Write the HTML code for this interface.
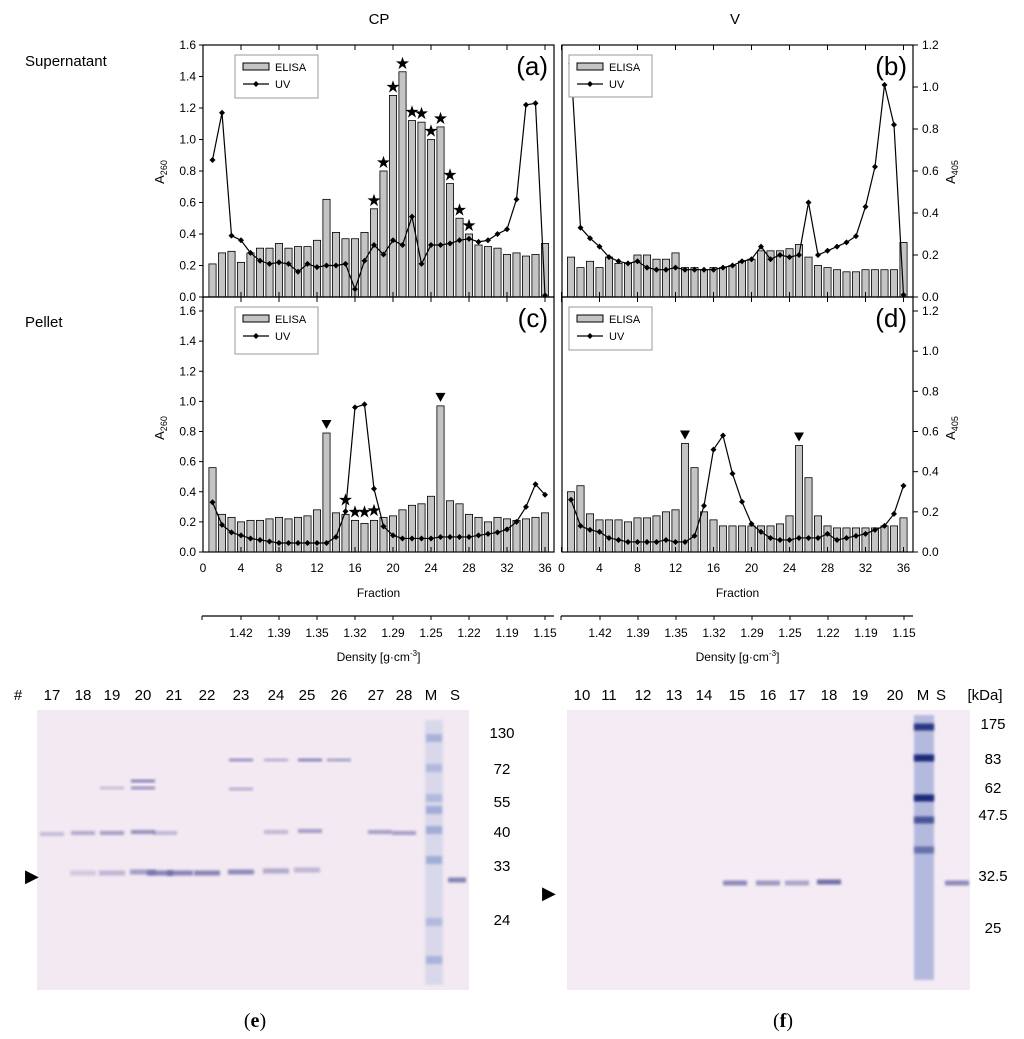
<!DOCTYPE html>
<html><head><meta charset="utf-8"><style>
body{margin:0;background:#fff}
svg{display:block;font-family:"Liberation Sans",sans-serif}
</style></head><body>
<svg id="fig" width="1024" height="1039" viewBox="0 0 1024 1039" xmlns="http://www.w3.org/2000/svg">
<defs><filter id="bl" x="-50%" y="-50%" width="200%" height="200%"><feGaussianBlur stdDeviation="1.4"/></filter></defs>
<g id="charts"></g>
<g id="gels"></g>
</svg>
<script>
const fractions = Array.from({length:36},(_,i)=>i+1);
const elisaA = [0.21,0.28,0.29,0.22,0.28,0.31,0.31,0.34,0.31,0.32,0.32,0.36,0.62,0.41,0.37,0.37,0.41,0.56,0.80,1.28,1.43,1.12,1.11,1.00,1.08,0.72,0.50,0.40,0.33,0.32,0.31,0.27,0.28,0.26,0.27,0.34];
const uvA = [0.87,1.17,0.39,0.36,0.28,0.23,0.21,0.22,0.21,0.16,0.21,0.19,0.20,0.20,0.21,0.05,0.23,0.33,0.27,0.36,0.33,0.51,0.21,0.33,0.33,0.34,0.36,0.37,0.35,0.36,0.40,0.43,0.62,1.22,1.23,0.01];
const starsA = [18,19,20,21,22,23,24,25,26,27,28];
const elisaB = [0.19,0.14,0.17,0.14,0.19,0.16,0.16,0.20,0.20,0.18,0.18,0.21,0.14,0.14,0.13,0.14,0.14,0.15,0.17,0.18,0.22,0.22,0.22,0.23,0.25,0.19,0.15,0.14,0.13,0.12,0.12,0.13,0.13,0.13,0.13,0.26];
const uvB = [1.11,0.33,0.28,0.24,0.19,0.17,0.16,0.17,0.14,0.13,0.13,0.14,0.13,0.13,0.13,0.13,0.14,0.15,0.17,0.18,0.24,0.18,0.20,0.19,0.20,0.45,0.20,0.22,0.24,0.26,0.29,0.43,0.62,1.01,0.82,0.01];
const elisaC = [0.56,0.25,0.23,0.20,0.21,0.21,0.22,0.23,0.22,0.23,0.24,0.28,0.79,0.26,0.25,0.21,0.19,0.21,0.23,0.24,0.28,0.31,0.32,0.37,0.97,0.34,0.32,0.25,0.23,0.20,0.23,0.22,0.21,0.22,0.23,0.26];
const uvC = [0.33,0.18,0.13,0.11,0.09,0.08,0.07,0.06,0.06,0.06,0.06,0.06,0.06,0.10,0.27,0.96,0.98,0.42,0.17,0.11,0.09,0.09,0.09,0.09,0.10,0.10,0.10,0.10,0.11,0.12,0.13,0.15,0.20,0.30,0.45,0.38];
const starsC = [15,16,17,18];
const starValsC = [0.35,0.27,0.27,0.28];
const trianglesC = [13,25];
const elisaD = [0.30,0.33,0.19,0.16,0.16,0.16,0.15,0.17,0.17,0.18,0.20,0.21,0.54,0.42,0.20,0.16,0.13,0.13,0.13,0.13,0.13,0.13,0.14,0.18,0.53,0.37,0.18,0.13,0.12,0.12,0.12,0.12,0.12,0.13,0.13,0.17];
const uvD = [0.26,0.13,0.11,0.10,0.07,0.06,0.05,0.05,0.05,0.05,0.06,0.05,0.05,0.08,0.23,0.51,0.58,0.39,0.25,0.14,0.10,0.07,0.06,0.06,0.07,0.07,0.07,0.09,0.06,0.07,0.08,0.09,0.11,0.13,0.19,0.33];
const trianglesD = [13,25];
const leftTicks = ["0.0","0.2","0.4","0.6","0.8","1.0","1.2","1.4","1.6"];
const rightTicks = ["0.0","0.2","0.4","0.6","0.8","1.0","1.2"];
const fracTicks = [0,4,8,12,16,20,24,28,32,36];
const densityTicks = ["1.42","1.39","1.35","1.32","1.29","1.25","1.22","1.19","1.15"];

const NS="http://www.w3.org/2000/svg";
function mk(tag,attrs,parent,text){const e=document.createElementNS(NS,tag);for(const k in attrs)e.setAttribute(k,attrs[k]);if(text!==undefined)e.textContent=text;parent.appendChild(e);return e;}
const root=document.getElementById('charts');

function panel(o){
  const g=mk('g',{},root);
  
  
  const x=f=>o.x0+9.5*f;
  const y=v=>o.yb-(o.yb-o.yt)*v/o.ymax;
  o.elisa.forEach((v,i)=>{
    const r=mk('rect',{x:x(fractions[i])-3.6,y:y(v),width:7.2,height:Math.max(0,o.yb-y(v)),fill:'#c4c4c4',stroke:'#000','stroke-width':0.8},g);
    
    
  });
  const pts=o.uv.map((v,i)=>x(fractions[i])+','+Math.max(o.clipTop,y(v))).join(' ');
  const pl=mk('polyline',{points:pts,fill:'none',stroke:'#000','stroke-width':1.2},g);
  
  
  o.uv.forEach((v,i)=>{
    const cx=x(fractions[i]),cy=Math.max(o.clipTop,y(v));
    const d=mk('path',{d:`M${cx} ${cy-3}L${cx+3} ${cy}L${cx} ${cy+3}L${cx-3} ${cy}Z`,fill:'#000'},g);
    
    
  });
  const fr=mk('rect',{x:o.fl,y:o.yt,width:o.fr-o.fl,height:o.yb-o.yt,fill:'none',stroke:'#000','stroke-width':1.2},g);
  
  
  fracTicks.forEach(f=>{mk('line',{x1:x(f),x2:x(f),y1:o.yb,y2:o.yb-5,stroke:'#000'},g);mk('line',{x1:x(f),x2:x(f),y1:o.yt,y2:o.yt+5,stroke:'#000'},g);});
  if(o.left){leftTicks.forEach((t,i)=>{const yy=y(i*0.2);mk('line',{x1:o.fl-4,x2:o.fl,y1:yy,y2:yy,stroke:'#000'},g);
    const tx=mk('text',{x:o.fl-7,y:yy+4,'font-size':12,'text-anchor':'end'},g,t);});}
  else{rightTicks.forEach((t,i)=>{const yy=y(i*0.2);mk('line',{x1:o.fr,x2:o.fr+5,y1:yy,y2:yy,stroke:'#000'},g);
    const tx=mk('text',{x:o.fr+9,y:yy+4,'font-size':12},g,t);});}
  const lg=mk('g',{},g);
  
  
  mk('rect',{x:o.lx,y:o.ly,width:83,height:o.lh,fill:'#fff',stroke:'#999'},lg);
  mk('rect',{x:o.lx+8,y:o.ly+8,width:26,height:7,fill:'#c4c4c4',stroke:'#000'},lg);
  mk('text',{x:o.lx+40,y:o.ly+16,'font-size':11},lg,'ELISA');
  mk('line',{x1:o.lx+8,x2:o.lx+34,y1:o.ly+29,y2:o.ly+29,stroke:'#000','stroke-width':1.2},lg);
  mk('path',{d:`M${o.lx+21} ${o.ly+26}l3 3l-3 3l-3 -3z`},lg);
  mk('text',{x:o.lx+40,y:o.ly+33,'font-size':11},lg,'UV');
  const pt=mk('text',{x:o.fr-6,y:o.yt+30,'font-size':26,'text-anchor':'end'},g,'('+o.id+')');
  
  
  (o.stars||[]).forEach((f,i)=>{
    const v=o.starVals?o.starVals[i]:o.elisa[f-1];
    const s=mk('text',{x:x(f),y:o.starVals?y(v)+6:y(v)-3,'font-size':17,'text-anchor':'middle'},g,'★');
    
    
  });
  (o.tri||[]).forEach(f=>{
    const v=o.elisa[f-1],cx=x(f),ty=y(v)-13;
    const t=mk('path',{d:`M${cx-5} ${ty}L${cx+5} ${ty}L${cx} ${ty+9}Z`},g);
    
    
  });
  if(o.bottom){
    fracTicks.forEach(f=>{const tx=mk('text',{x:x(f),y:o.yb+20,'font-size':12,'text-anchor':'middle'},g,String(f));});
    const ft=mk('text',{x:(o.fl+o.fr)/2,y:o.yb+45,'font-size':12,'text-anchor':'middle'},g,'Fraction');
    
    const dy=616;
    mk('line',{x1:o.fl-1,x2:o.fr,y1:dy,y2:dy,stroke:'#000','stroke-width':1.2},g);
    mk('line',{x1:o.fl-1,x2:o.fl-1,y1:dy,y2:dy+4,stroke:'#000'},g);
    densityTicks.forEach((t,i)=>{const xx=o.fl+38+38*i;mk('line',{x1:xx,x2:xx,y1:dy,y2:dy+4,stroke:'#000'},g);
      const tx=mk('text',{x:xx,y:dy+21,'font-size':12,'text-anchor':'middle'},g,t);});
    const dt=mk('text',{x:(o.fl+o.fr)/2,y:dy+45,'font-size':12,'text-anchor':'middle'},g);
    
    dt.innerHTML='Density [g·cm<tspan dy="-5" font-size="8">-3</tspan><tspan dy="5">]</tspan>';
  }
}
panel({id:'a',x0:203,fl:203,fr:554,yt:45,yb:297,ymax:1.6,clipTop:45,elisa:elisaA,uv:uvA,stars:starsA,left:true,lx:235,ly:55,lh:43});
panel({id:'b',x0:561.5,fl:562,fr:913,yt:45,yb:297,ymax:1.2,clipTop:45,elisa:elisaB,uv:uvB,left:false,lx:569,ly:55,lh:42});
panel({id:'c',x0:203,fl:203,fr:554,yt:297,yb:552,ymax:1.6*(552-297)/(552-311),clipTop:297,elisa:elisaC,uv:uvC,stars:starsC,starVals:starValsC,tri:trianglesC,left:true,lx:235,ly:307,lh:47,bottom:true});
panel({id:'d',x0:561.5,fl:562,fr:913,yt:297,yb:552,ymax:1.2*(552-297)/(552-311),clipTop:297,elisa:elisaD,uv:uvD,tri:trianglesD,left:false,lx:569,ly:307,lh:43,bottom:true});
</script>
<script>
const T=(x,y,s,t,name,extra)=>{const e=mk('text',Object.assign({x:x,y:y,'font-size':s},extra||{}),document.getElementById('fig'),t);return e;};
T(379,24,15,'CP','column-title-cp',{'text-anchor':'middle'});
T(735,24,15,'V','column-title-v',{'text-anchor':'middle'});
T(25,66,15,'Supernatant','row-title-supernatant');
T(25,327,15,'Pellet','row-title-pellet');
function yl(x,y,base,name){const e=T(x,y,13,'',name,{transform:`rotate(-90 ${x} ${y})`,'text-anchor':'middle'});e.innerHTML=base.replace(/(\d+)/,'<tspan font-size="9" dy="3">$1</tspan>');}
yl(164,172,'A260','y-axis-title-a');yl(164,428,'A260','y-axis-title-c');
yl(955,172,'A405','y-axis-title-b');yl(955,428,'A405','y-axis-title-d');
const gg=document.getElementById('gels');
const ge=mk('rect',{x:37,y:710,width:432,height:280,fill:'#f3e9f2'},gg);
const gf=mk('rect',{x:567,y:710,width:403,height:280,fill:'#f5ebf4'},gg);
const band=(x,y,w,h,c,op)=>mk('rect',{x:x-w/2,y:y-h/2,width:w,height:h,fill:c,opacity:op,filter:'url(#bl)'},gg);
[[83,873,.25],[112,873,.4],[143,872,.6],[160,873,.8],[180,873,.8],[207,873,.8],[241,872,.75],[276,871,.5],[307,870,.4]].forEach(b=>band(b[0],b[1],26,5,'#6a6aa8',b[2]));
[[52,834,.35],[83,833,.5],[112,833,.6],[143,832,.7],[165,833,.4],[276,832,.4],[310,831,.6],[380,832,.6],[404,833,.6]].forEach(b=>band(b[0],b[1],24,4,'#6a6aa8',b[2]));
[[143,781,.7],[143,788,.6],[112,788,.3],[241,789,.4],[241,760,.6],[276,760,.4],[310,760,.7],[339,760,.5]].forEach(b=>band(b[0],b[1],24,3,'#5a5aa0',b[2]));
band(457,880,18,5,'#6a6aa8',.8);
mk('rect',{x:425,y:720,width:18,height:265,fill:'#c9cde6',opacity:.6,filter:'url(#bl)'},gg);
[[738,.6],[768,.5],[798,.5],[810,.7],[830,.7],[860,.7],[922,.5],[960,.6]].forEach(b=>band(434,b[0],16,8,'#8a9cd0',b[1]));
[[735,883,.7],[768,883,.6],[797,883,.5],[829,882,.9],[957,883,.7]].forEach(b=>band(b[0],b[1],24,5,'#6060a0',b[2]));
mk('rect',{x:914,y:715,width:20,height:265,fill:'#8a9ad0',opacity:.6,filter:'url(#bl)'},gg);
[[727,.9],[758,1],[798,1],[820,.7],[850,.5]].forEach(b=>band(924,b[0],20,7,'#1a2a7a',b[1]));
T(25,882,18,'▶','arrow-e');T(542,899,18,'▶','arrow-f');
const laneE=[['#',18],['17',52],['18',83],['19',112],['20',143],['21',174],['22',207],['23',241],['24',276],['25',307],['26',339],['27',376],['28',404],['M',431],['S',455]];
laneE.forEach(l=>T(l[1],700,15,l[0],'lane-label-e',{'text-anchor':'middle'}));
[['130',733],['72',769],['55',802],['40',832],['33',866],['24',920]].forEach(k=>T(502,k[1]+5,15,k[0],'kda-label-e',{'text-anchor':'middle'}));
const laneF=[['10',582],['11',609],['12',643],['13',674],['14',704],['15',737],['16',768],['17',797],['18',829],['19',860],['20',895],['M',923],['S',941],['[kDa]',985]];
laneF.forEach(l=>T(l[1],700,15,l[0],'lane-label-f',{'text-anchor':'middle'}));
[['175',724],['83',759],['62',788],['47.5',815],['32.5',876],['25',928]].forEach(k=>T(993,k[1]+5,15,k[0],'kda-label-f',{'text-anchor':'middle'}));
const ce=T(255,1027,20,'','caption-e',{'text-anchor':'middle','font-family':'Liberation Serif, serif'});ce.innerHTML='(<tspan font-weight="bold">e</tspan>)';
const cf=T(783,1027,20,'','caption-f',{'text-anchor':'middle','font-family':'Liberation Serif, serif'});cf.innerHTML='(<tspan font-weight="bold">f</tspan>)';
</script>
</body></html>
